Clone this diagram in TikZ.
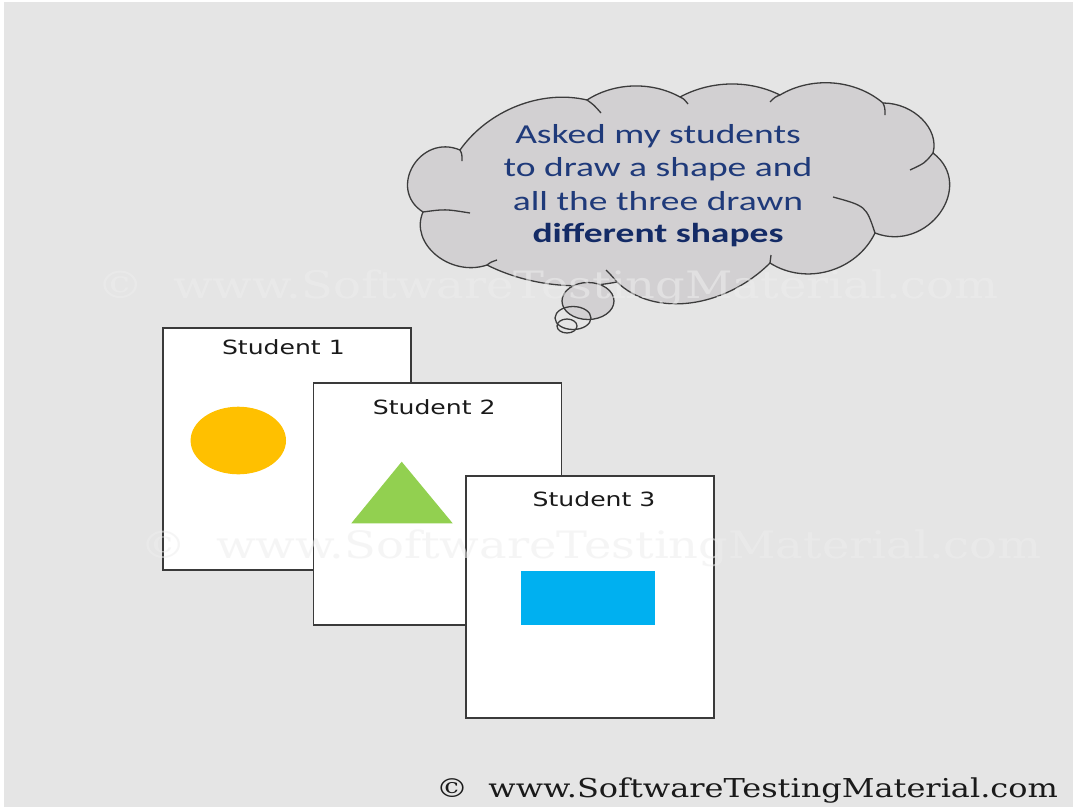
\documentclass[tikz,border=0pt]{standalone}
\usepackage{fontspec}
\usetikzlibrary{calc,shapes.geometric}
\newfontfamily\cloudfont[FakeStretch=1.37]{Carlito}
\newfontfamily\cardfont[FakeStretch=1.28]{DejaVu Sans}
\newfontfamily\markfont[FakeStretch=1.23]{DejaVu Serif}
\definecolor{bggray}{HTML}{E5E5E5}
\definecolor{cloudgray}{HTML}{D2D0D2}
\definecolor{cloudline}{HTML}{3C3C3C}
\definecolor{navy}{HTML}{1F3A7A}
\definecolor{navydark}{HTML}{142B66}
\definecolor{cardline}{HTML}{3A3A3A}
\definecolor{sunyellow}{HTML}{FFC000}
\definecolor{leafgreen}{HTML}{92D050}
\definecolor{skyblue}{HTML}{00B0F0}
\definecolor{inkgray}{HTML}{1A1A1A}
\definecolor{markgray}{HTML}{EEEEEE}
% bump from #1 to #3 whose middle passes #2; #4 = 1/3+t, #5 = 2/3+t
\newcommand{\bmp}[5]{.. controls ($#4*(#1)+1.33333*(#2)-#5*(#3)$) and ($#4*(#3)+1.33333*(#2)-#5*(#1)$) .. (#3)}
\tikzset{
  cardbox/.style={draw=cardline, line width=1.4pt, fill=white, minimum width=248pt, minimum height=242pt, inner sep=0pt},
  cardlabel/.style={font=\cardfont\fontsize{19.6}{22}\selectfont, text=inkgray, anchor=base, inner sep=0pt},
  cloudtext/.style={font=\cloudfont\fontsize{27.4}{33}\selectfont, text=navy, anchor=base, inner sep=0pt},
  cloudedge/.style={draw=cloudline, line width=1.3pt},
  watermark/.style={font=\markfont\fontsize{37.7}{40}\selectfont, anchor=base west, inner sep=0pt, text=markgray, text opacity=0.55},
}
\begin{document}
\begin{tikzpicture}[x=1pt,y=-1pt]
\useasboundingbox (0,0) rectangle (1073,807);
\fill[white] (0,0) rectangle (1073,807);
\fill[bggray] (4,2) rectangle (1073,807);

% cloud valleys and bump peaks
\coordinate (v1) at (460,150);
\coordinate (v2) at (587,100);
\coordinate (v3) at (680,97);
\coordinate (v4) at (780,95);
\coordinate (v5) at (883,103);
\coordinate (v6) at (933,153);
\coordinate (v7) at (875,233);
\coordinate (v8) at (770,263);
\coordinate (v9) at (617,282);
\coordinate (v10) at (487,265);
\coordinate (v11) at (423,212);
\coordinate (e1) at (517,106);
\coordinate (e2) at (633,86);
\coordinate (e3) at (730,84);
\coordinate (e4) at (833,83);
\coordinate (e5) at (922,119);
\coordinate (e6) at (940,213);
\coordinate (e7) at (829,271);
\coordinate (e8) at (690,303);
\coordinate (e9) at (550,284);
\coordinate (e10) at (436,255);
\coordinate (e11) at (413,166);

\path[cloudedge, fill=cloudgray] (v11)
  \bmp{v11}{e11}{v1}{0.2833}{0.6167}
  \bmp{v1}{e1}{v2}{0.0433}{0.3767}
  \bmp{v2}{e2}{v3}{0.0333}{0.3667}
  \bmp{v3}{e3}{v4}{0.0233}{0.3567}
  \bmp{v4}{e4}{v5}{0.0433}{0.3767}
  \bmp{v5}{e5}{v6}{0.0933}{0.4267}
  \bmp{v6}{e6}{v7}{0.2533}{0.5867}
  \bmp{v7}{e7}{v8}{0.0733}{0.4067}
  \bmp{v8}{e8}{v9}{0.0633}{0.3967}
  \bmp{v9}{e9}{v10}{0.0133}{0.3467}
  \bmp{v10}{e10}{v11}{0.1533}{0.4867} -- cycle;

% inner curls of the cloud
\draw[cloudedge] (v1) .. controls (462,154) .. (462,161);
\draw[cloudedge] (v2) .. controls (594,105) .. (601,113);
\draw[cloudedge] (v3) .. controls (684,99) .. (688,104);
\draw[cloudedge] (v4) .. controls (775,97) .. (770,102);
\draw[cloudedge] (v5) .. controls (885,108) .. (885,115);
\draw[cloudedge] (v6) .. controls (925,163) .. (910,170);
\draw[cloudedge] (v7) .. controls (866,206) .. (833,197);
\draw[cloudedge] (v8) .. controls (770,259) .. (771,255);
\draw[cloudedge] (v9) .. controls (611,275) .. (606,270);
\draw[cloudedge] (v10) .. controls (491,262) .. (497,260);
\draw[cloudedge] (v11) .. controls (445,209) .. (470,213);

% thought bubbles
\node[ellipse, cloudedge, fill=cloudgray, minimum width=52pt, minimum height=37pt, inner sep=0pt] (bub1) at (588,301) {};
\node[ellipse, cloudedge, minimum width=36pt, minimum height=23pt, inner sep=0pt] (bub2) at (573,318) {};
\node[ellipse, cloudedge, minimum width=20pt, minimum height=14pt, inner sep=0pt] (bub3) at (567,326) {};

% cloud text
\node[cloudtext] (t1) at (658,143.5) {Asked my students};
\node[cloudtext] (t2) at (658,176.7) {to draw a shape and};
\node[cloudtext] (t3) at (658,210) {all the three drawn};
\node[cloudtext, text=navydark] (t4) at (658,242) {\bfseries different shapes};

% cards
\node[cardbox] (card1) at (287,449) {};
\node[ellipse, fill=sunyellow, minimum width=95.4pt, minimum height=67.6pt, inner sep=0pt] (sun) at (238.3,440.5) {};
\node[cardlabel] (lab1) at (283.4,354.3) {Student 1};

\node[cardbox] (card2) at (437.7,504) {};
\fill[leafgreen] (401.7,461.7) -- (452.7,523.3) -- (351.3,523.3) -- cycle;
\node[cardlabel] (lab2) at (434.2,414.3) {Student 2};

\node[cardbox] (card3) at (590,597) {};
\node[fill=skyblue, minimum width=134pt, minimum height=54pt, inner sep=0pt] (box) at (588,598) {};
\node[cardlabel] (lab3) at (594,506) {Student 3};

% credit line
\node[font=\markfont\fontsize{26}{28}\selectfont, anchor=base west, inner sep=0pt, text=inkgray] (credit) at (436,797) {©\ \ www.SoftwareTestingMaterial.com};

% watermarks
\node[watermark] (wm1) at (97,298) {©\ \ www.SoftwareTestingMaterial.com};
\node[watermark] (wm2) at (140,558) {©\ \ www.SoftwareTestingMaterial.com};
\end{tikzpicture}
\end{document}
